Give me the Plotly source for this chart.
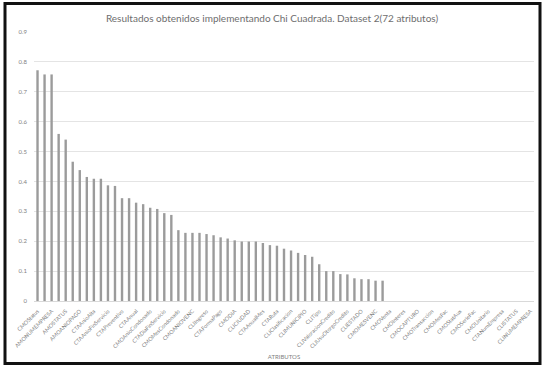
import plotly.graph_objects as go

# Chi-square scores per attribute, ordered from highest to lowest (71 attributes)
scores = [
    0.772, 0.758, 0.758, 0.559, 0.540, 0.466, 0.438, 0.415, 0.409, 0.409,
    0.387, 0.385, 0.344, 0.344, 0.329, 0.324, 0.312, 0.308, 0.294, 0.288,
    0.237, 0.228, 0.228, 0.228, 0.224, 0.220, 0.213, 0.209, 0.203, 0.199,
    0.199, 0.199, 0.194, 0.187, 0.185, 0.175, 0.169, 0.161, 0.154, 0.148,
    0.123, 0.100, 0.100, 0.090, 0.089, 0.076, 0.073, 0.073, 0.068, 0.068,
    0, 0, 0, 0, 0, 0, 0, 0, 0, 0,
    0, 0, 0, 0, 0, 0, 0, 0, 0, 0,
    0,
]

# Attribute names labelled on the axis (every second attribute)
axis_labels = [
    "CMOStatus", "AMONUMEMPRESA", "AMOSTATUS", "AMOANIOPAGO", "CTAAnioAlta",
    "CTAAnioFinServicio", "CTAPreventivo", "CTAAnual", "CMOAnioCondonado",
    "CTADiaFinServicio", "CMOMesCondonado", "CMOANIOVENC", "CLIIngreso",
    "CTAFormaPago", "CMODIA", "CLICIUDAD", "CTAAnualMes", "CTARuta",
    "CLIClasificacion", "CLIMUNICIPIO", "CLITipo", "CLIValoracionCredito",
    "CLIUsuOtorgoCredito", "CLIESTADO", "CMOMESVENC", "CMOVenta",
    "CMOInteres", "CMOCAPTURO", "CMOTransaccion", "CMOMesFac", "CMOStatAux",
    "CMOSerieFac", "CMOUnitario", "CTANumEmpresa", "CLISTATUS",
    "CLINUMEMPRESA",
]

positions = list(range(len(scores)))
label_positions = positions[::2]

fig = go.Figure(
    go.Bar(
        x=positions,
        y=scores,
        marker=dict(color="#9b9b9b", line=dict(width=0)),
        hoverinfo="x+y",
    )
)

grey = "#7f7f7f"
font = "Lato, 'Open Sans', sans-serif"

fig.update_layout(
    width=544,
    height=368,
    margin=dict(l=34, r=10, t=32, b=67),
    paper_bgcolor="white",
    plot_bgcolor="white",
    bargap=0.66,
    showlegend=False,
    title=dict(
        text="Resultados obtenidos implementando Chi Cuadrada. Dataset 2(72 atributos)",
        x=0.5,
        xanchor="center",
        y=1 - 18 / 368,
        yanchor="middle",
        font=dict(family=font, size=10, color="#6e6e6e"),
    ),
    xaxis=dict(
        range=[-0.5, len(scores) - 0.5],
        tickmode="array",
        tickvals=label_positions,
        ticktext=axis_labels,
        tickangle=-45,
        tickfont=dict(family=font, size=5.5, color=grey),
        ticklabelstandoff=5,
        showgrid=False,
        zeroline=False,
        showline=False,
        ticks="",
        automargin=False,
        title=dict(
            text="ATRIBUTOS",
            font=dict(family=font, size=6, color=grey),
            standoff=6,
        ),
    ),
    yaxis=dict(
        range=[0, 0.9],
        dtick=0.1,
        tick0=0,
        tickfont=dict(family=font, size=6, color=grey),
        gridcolor="#e4e4e4",
        gridwidth=1,
        zeroline=True,
        zerolinecolor="#d9d9d9",
        zerolinewidth=1,
        showline=False,
        ticks="",
        ticklabelstandoff=6,
        automargin=False,
    ),
    shapes=[
        dict(
            type="rect",
            xref="paper",
            yref="paper",
            x0=(5 - 34) / 500,
            x1=(540 - 34) / 500,
            y0=(300.7 - 363) / 268.3,
            y1=(300.7 - 4) / 268.3,
            line=dict(color="#111111", width=3),
            fillcolor="rgba(0,0,0,0)",
            layer="above",
        )
    ],
)

fig.write_html("out.html")
